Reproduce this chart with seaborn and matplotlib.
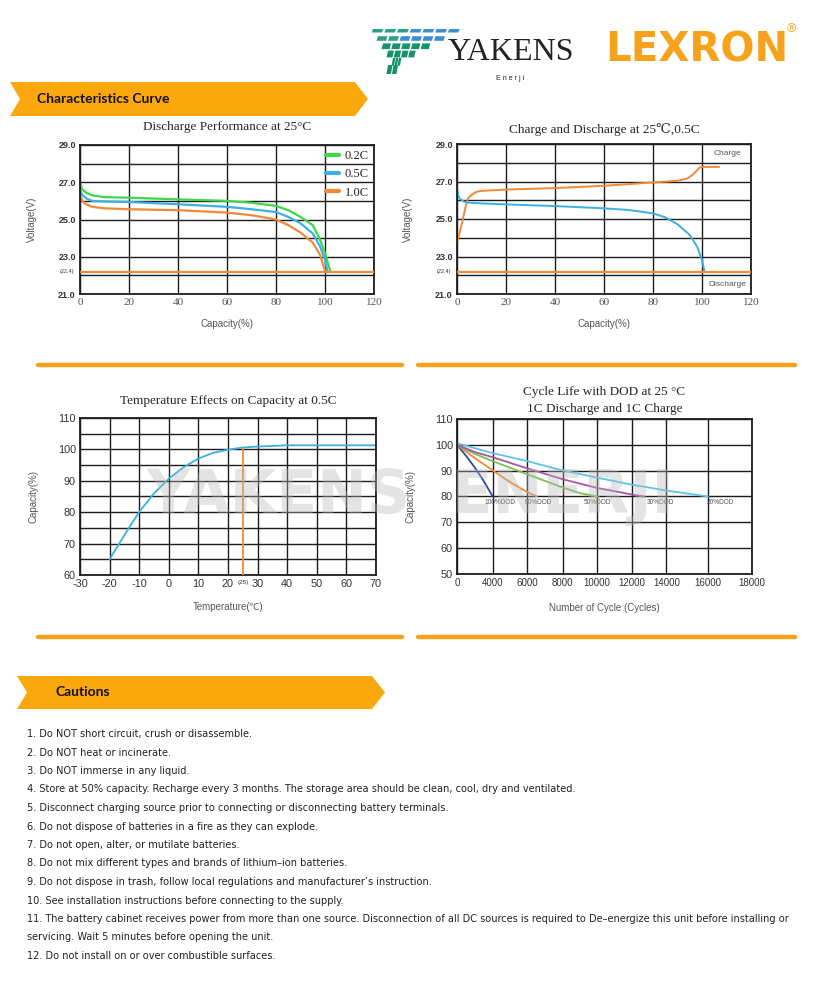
import os
import numpy as np
import matplotlib.pyplot as plt
import seaborn as sns
from matplotlib import font_manager
from matplotlib.patches import Polygon
from matplotlib.lines import Line2D

# ---- values ----
# Discharge Performance at 25C  (capacity %, voltage V)
cap_02c = [0, 1, 3, 5, 10, 20, 40, 60, 70, 80, 85, 90, 95, 98, 100, 101.5, 102.2]
volt_02c = [26.95, 26.6, 26.4, 26.3, 26.2, 26.17, 26.08, 26.0, 25.9, 25.73, 25.5, 25.14, 24.7, 23.9, 23.2, 22.5, 22.2]
cap_05c = [0, 1, 3, 5, 10, 20, 40, 60, 70, 80, 85, 90, 95, 98, 100, 101]
volt_05c = [26.6, 26.3, 26.1, 26.0, 25.97, 25.94, 25.82, 25.68, 25.55, 25.4, 25.14, 24.8, 24.25, 23.55, 22.83, 22.2]
cap_10c = [0, 1, 2, 5, 10, 20, 40, 60, 70, 80, 85, 90, 95, 98, 100]
volt_10c = [26.3, 26.0, 25.85, 25.68, 25.6, 25.55, 25.5, 25.37, 25.23, 25.0, 24.7, 24.3, 23.76, 23.1, 22.24]
rate_labels = ["0.2C", "0.5C", "1.0C"]
cutoff_v = 22.2          # where the cut-off line is drawn
cutoff_label = "(22.4)"

# Charge and Discharge at 25C, 0.5C
charge_cap = [0, 1, 2, 3.5, 4.5, 6, 8, 10, 20, 40, 60, 80, 90, 94, 96, 98, 99, 100, 107]
charge_v = [23.7, 24.24, 24.77, 25.65, 26.1, 26.3, 26.45, 26.5, 26.57, 26.65, 26.77, 26.95, 27.04, 27.16, 27.34, 27.6, 27.74, 27.78, 27.78]
dis_cap = [0, 0.5, 1, 3, 5, 10, 20, 40, 60, 70, 80, 85, 90, 95, 98, 100, 101]
dis_v = [26.68, 26.27, 26.1, 25.92, 25.87, 25.83, 25.78, 25.69, 25.57, 25.48, 25.3, 25.09, 24.72, 24.15, 23.53, 22.82, 22.2]

# Temperature effects on capacity at 0.5C
temp_c = [-20, -15, -10, -5, 0, 5, 10, 15, 20, 25, 30, 40, 50, 60, 70]
temp_capacity = [65, 72.7, 80.1, 86, 90.7, 94.3, 97.1, 98.9, 99.9, 100.6, 100.9, 101.3, 101.3, 101.3, 101.3]
ref_temp = 25

# Cycle life with DOD at 25C
dod_names = ["100%DOD", "80%DOD", "50%DOD", "30%DOD", "20%DOD"]
dod_cycles = [
    [0, 1000, 2000, 3000, 4000],
    [0, 2000, 4000, 5000, 6000, 6550],
    [0, 2000, 4000, 6000, 8000, 9000, 10000],
    [0, 2000, 4000, 6000, 8000, 10000, 12000, 12700],
    [0, 4000, 6000, 8000, 10000, 12000, 14000, 16000],
]
dod_capacity = [
    [100, 95.8, 91.2, 86, 80],
    [100, 94.9, 90.1, 85.6, 81.7, 80],
    [100, 96.5, 93.7, 88.6, 83.5, 81.3, 80],
    [100, 97.2, 95.2, 90.9, 86.7, 83.3, 80.8, 80],
    [100.6, 96.8, 93.7, 90.1, 87.3, 84.6, 82.3, 80],
]
dod_label_x = [3100, 5850, 9200, 12850, 15950]
cycle_ticks = [0, 4000, 6000, 8000, 10000, 12000, 14000, 16000, 18000]

cautions = [
    "1. Do NOT short circuit, crush or disassemble.",
    "2. Do NOT heat or incinerate.",
    "3. Do NOT immerse in any liquid.",
    "4. Store at 50% capacity. Recharge every 3 months. The storage area should be clean, cool, dry and ventilated.",
    "5. Disconnect charging source prior to connecting or disconnecting battery terminals.",
    "6. Do not dispose of batteries in a fire as they can explode.",
    "7. Do not open, alter, or mutilate batteries.",
    "8. Do not mix different types and brands of lithium\u2013ion batteries.",
    "9. Do not dispose in trash, follow local regulations and manufacturer\u2019s instruction.",
    "10. See installation instructions before connecting to the supply.",
    "11. The battery cabinet receives power from more than one source. Disconnection of all DC sources is required to De\u2013energize this unit before installing or",
    "servicing. Wait 5 minutes before opening the unit.",
    "12. Do not install on or over combustible surfaces.",
]

# ---- style ----
sns.set_theme(style="white")
plt.rcParams['font.family'] = ['Liberation Sans', 'DejaVu Sans']

# look for a narrow/condensed face for the cautions list
narrow_prop = font_manager.FontProperties(family='Liberation Sans')
for f in font_manager.fontManager.ttflist:
    nm = (f.name + ' ' + os.path.basename(f.fname)).lower()
    if ('narrow' in nm or 'condensed' in nm) and 'bold' not in nm and 'italic' not in nm \
            and 'oblique' not in nm and 'mono' not in nm and 'serif' not in nm \
            and 'light' not in nm and 'semi' not in nm:
        narrow_prop = font_manager.FontProperties(fname=f.fname)
        break

SERIF = ['Liberation Serif', 'DejaVu Serif']
BOLD_SANS = ['Lato', 'Liberation Sans', 'DejaVu Sans']

GREEN = '#3fd64a'
BLUE = '#3cb0e2'
ORANGE = '#f08a38'
BANNER = '#fba80f'
GRID = '#1c1c1c'
LABEL = '#555555'

W, H = 817, 1000
fig = plt.figure(figsize=(W / 100, H / 100), dpi=100)


def add_ax(l, t, r, b):
    return fig.add_axes([l / W, 1 - b / H, (r - l) / W, (b - t) / H])


def style(ax, ylab, xlab, ylab_x, xlab_y):
    ax.set_axisbelow(True)
    ax.grid(True, which='both', color=GRID, lw=1.0)
    ax.tick_params(which='both', length=0, pad=3)
    for s in ax.spines.values():
        s.set_color(GRID)
        s.set_linewidth(1.3)
    ax.set_ylabel(ylab, fontsize=7, color=LABEL)
    ax.set_xlabel(xlab, fontsize=7, color=LABEL)
    ax.yaxis.set_label_coords(ylab_x, 0.5)
    ax.xaxis.set_label_coords(0.5, xlab_y)


def volt_axis(ax):
    ax.set_xlim(0, 120)
    ax.set_ylim(21, 29)
    ax.set_xticks(range(0, 121, 20))
    ax.set_yticks([21, 23, 25, 27, 29])
    ax.set_yticks([22, 24, 26, 28], minor=True)
    ax.set_yticklabels([f"{v:.1f}" for v in [21, 23, 25, 27, 29]],
                       fontsize=6.5, fontweight='bold', color='#333333')
    ax.set_xticklabels([str(v) for v in range(0, 121, 20)],
                       fontsize=8, color=LABEL, family=SERIF)
    ax.axhline(cutoff_v, color=ORANGE, lw=1.6, zorder=3)
    ax.text(-0.02, cutoff_v, cutoff_label, transform=ax.get_yaxis_transform(),
            ha='right', va='center', fontsize=4, color='#333333')


# chart 1: discharge performance
ax1 = add_ax(80, 145, 374, 294)
for cap, volt, lab, col in zip([cap_02c, cap_05c, cap_10c], [volt_02c, volt_05c, volt_10c],
                               rate_labels, [GREEN, BLUE, ORANGE]):
    sns.lineplot(x=cap, y=volt, ax=ax1, color=col, lw=1.6, label=lab, sort=False)
volt_axis(ax1)
style(ax1, "Voltage(V)", "Capacity(%)", -0.146, -0.168)
ax1.set_title("Discharge Performance at 25\u00b0C", family=SERIF, fontsize=9.5, pad=11)
leg = ax1.legend(loc='upper right', frameon=False, prop={'family': SERIF, 'size': 9},
                 handlelength=1.0, handletextpad=0.5, labelspacing=0.5, borderaxespad=0.0)
for h in leg.get_lines():
    h.set_linewidth(3)

# chart 2: charge and discharge
ax2 = add_ax(457, 144, 751, 294)
sns.lineplot(x=charge_cap, y=charge_v, ax=ax2, color=ORANGE, lw=1.4, sort=False)
sns.lineplot(x=dis_cap, y=dis_v, ax=ax2, color=BLUE, lw=1.4, sort=False)
volt_axis(ax2)
style(ax2, "Voltage(V)", "Capacity(%)", -0.15, -0.168)
ax2.set_title("Charge and Discharge at 25\u2103,0.5C", family=SERIF + ['Noto Sans CJK SC'],
              fontsize=9.5, pad=8)
ax2.text(110.5, 28.47, "Charge", fontsize=6, color=LABEL, ha='center', va='center')
ax2.text(110.5, 21.5, "Discharge", fontsize=6, color=LABEL, ha='center', va='center')

# chart 3: temperature effects
ax3 = add_ax(80, 418, 376, 575)
sns.lineplot(x=temp_c, y=temp_capacity, ax=ax3, color=BLUE, lw=1.3, sort=False)
ax3.vlines(ref_temp, 60, np.interp(ref_temp, temp_c, temp_capacity), color=ORANGE, lw=1.3, zorder=3)
ax3.set_xlim(-30, 70)
ax3.set_ylim(60, 110)
ax3.set_xticks(range(-30, 71, 10))
ax3.set_yticks(range(60, 111, 10))
ax3.set_yticks(range(65, 110, 10), minor=True)
ax3.set_xticklabels([str(v) for v in range(-30, 71, 10)], fontsize=7.8, color='#333333')
ax3.set_yticklabels([str(v) for v in range(60, 111, 10)], fontsize=7.8, color='#333333')
style(ax3, "Capacity(%)", "Temperature(\u2103)", -0.139, -0.175)
ax3.xaxis.label.set_family(['Liberation Sans', 'Noto Sans CJK SC'])
ax3.text(ref_temp, -0.03, f"({ref_temp})", transform=ax3.get_xaxis_transform(),
         ha='center', va='top', fontsize=4.5, color='#333333')
ax3.set_title("Temperature Effects on Capacity at 0.5C", family=SERIF, fontsize=9.5, pad=10)

# chart 4: cycle life (x axis as printed: ticks are not evenly spaced)
tick_pos = [0, 35.7, 70.3, 105.7, 140.3, 174.7, 209.7, 251.3, 295.3]
ax4 = add_ax(457, 419, 752, 574)
ax4.set_xscale('function', functions=(lambda v: np.interp(v, cycle_ticks, tick_pos),
                                      lambda p: np.interp(p, tick_pos, cycle_ticks)))
dod_colors = ['#2b4c9b', ORANGE, '#7cc24a', '#a855a8', '#5ec4ea']
for cyc, capv, col in zip(dod_cycles, dod_capacity, dod_colors):
    sns.lineplot(x=cyc, y=capv, ax=ax4, color=col, lw=1.3, sort=False)
for name, lx in zip(dod_names, dod_label_x):
    ax4.text(lx, 77.6, name, fontsize=4.7, color=LABEL, ha='left', va='center')
ax4.set_xlim(0, 18000)
ax4.set_ylim(50, 110)
ax4.set_xticks(cycle_ticks)
ax4.set_xticklabels([str(v) for v in cycle_ticks], fontsize=7, color='#333333')
ax4.set_yticks(range(50, 111, 10))
ax4.set_yticklabels([str(v) for v in range(50, 111, 10)], fontsize=7.8, color='#333333')
ax4.minorticks_off()
style(ax4, "Capacity(%)", "Number of Cycle (Cycles)", -0.142, -0.19)
ax4.set_title("Cycle Life with DOD at 25 \u00b0C\n1C Discharge and 1C Charge",
              family=SERIF, fontsize=9.5, pad=5, linespacing=1.6)

# ---- page decoration ----
def banner(x0, y0, x1, y1, text, tx):
    ym = (y0 + y1) / 2
    pts = [(x0, y0), (x1 - 13, y0), (x1, ym), (x1 - 13, y1), (x0, y1), (x0 + 10, ym)]
    fig.add_artist(Polygon([(x / W, 1 - y / H) for x, y in pts], closed=True,
                           facecolor=BANNER, edgecolor='none', transform=fig.transFigure))
    fig.text(tx / W, 1 - ym / H, text, fontsize=10, fontweight='bold', family=BOLD_SANS,
             color='#111111', va='center', ha='left')


banner(10, 82, 368, 116, "Characteristics Curve", 37)
banner(17, 676, 385, 709, "Cautions", 55)

for yy in (365, 637):
    for xa, xb in ((38, 402), (418, 795)):
        fig.add_artist(Line2D([xa / W, xb / W], [1 - yy / H] * 2, color='#f6a21a',
                              lw=3.2, transform=fig.transFigure))

# watermark
fig.text(410 / W, 1 - 497 / H, "YAKENS  ENERJI", fontsize=43, fontweight='bold',
         family='DejaVu Sans', color='#b8b8b8', alpha=0.38, ha='center', va='center', zorder=20)

# logos
for r in range(6):
    n = 7 - r
    y_top = 29 + r * 7.2
    h = 3.5 + r * 1.1
    x_start = 373 + r * 5
    x_end = 462 - r * 15
    step = (x_end - x_start) / n
    for i in range(n):
        xa = x_start + i * step
        frac = i / max(n - 1, 1)
        col = '#3b8fd4' if (r < 2 and frac > 0.35) else ('#2aa08a' if r < 2 else '#17936b')
        pts = [(xa, y_top), (xa + step * 0.82, y_top), (xa + step * 0.82 - 1.5, y_top + h),
               (xa - 1.5, y_top + h)]
        fig.add_artist(Polygon([(x / W, 1 - y / H) for x, y in pts], closed=True,
                               facecolor=col, edgecolor='none', transform=fig.transFigure))
fig.text(511 / W, 1 - 53 / H, "YAKENS", fontsize=23, family=SERIF, color='#222222',
         ha='center', va='center')
fig.text(510 / W, 1 - 78 / H, "E n e r j i", fontsize=5, color='#222222', ha='center', va='center')
fig.text(697 / W, 1 - 51 / H, "LEXRON", fontsize=29, fontweight='bold', family='DejaVu Sans',
         color='#f7a21b', ha='center', va='center')
fig.text(791 / W, 1 - 29 / H, "\u00ae", fontsize=9, color='#f7a21b', ha='center', va='center')

# cautions list; size chosen so the long line 11 ends where it does on the sheet
caution_texts = []
for i, line in enumerate(cautions):
    caution_texts.append(fig.text(27 / W, 1 - (734 + i * 18.5) / H, line, fontproperties=narrow_prop,
                                  fontsize=9, color='#222222', ha='left', va='center'))
renderer = fig.canvas.get_renderer()
long_w = caution_texts[10].get_window_extent(renderer).width
size = min(9.5, 9 * (790 - 27) / long_w)
for t in caution_texts:
    t.set_fontsize(size)

fig.savefig("out.png", dpi=100)
